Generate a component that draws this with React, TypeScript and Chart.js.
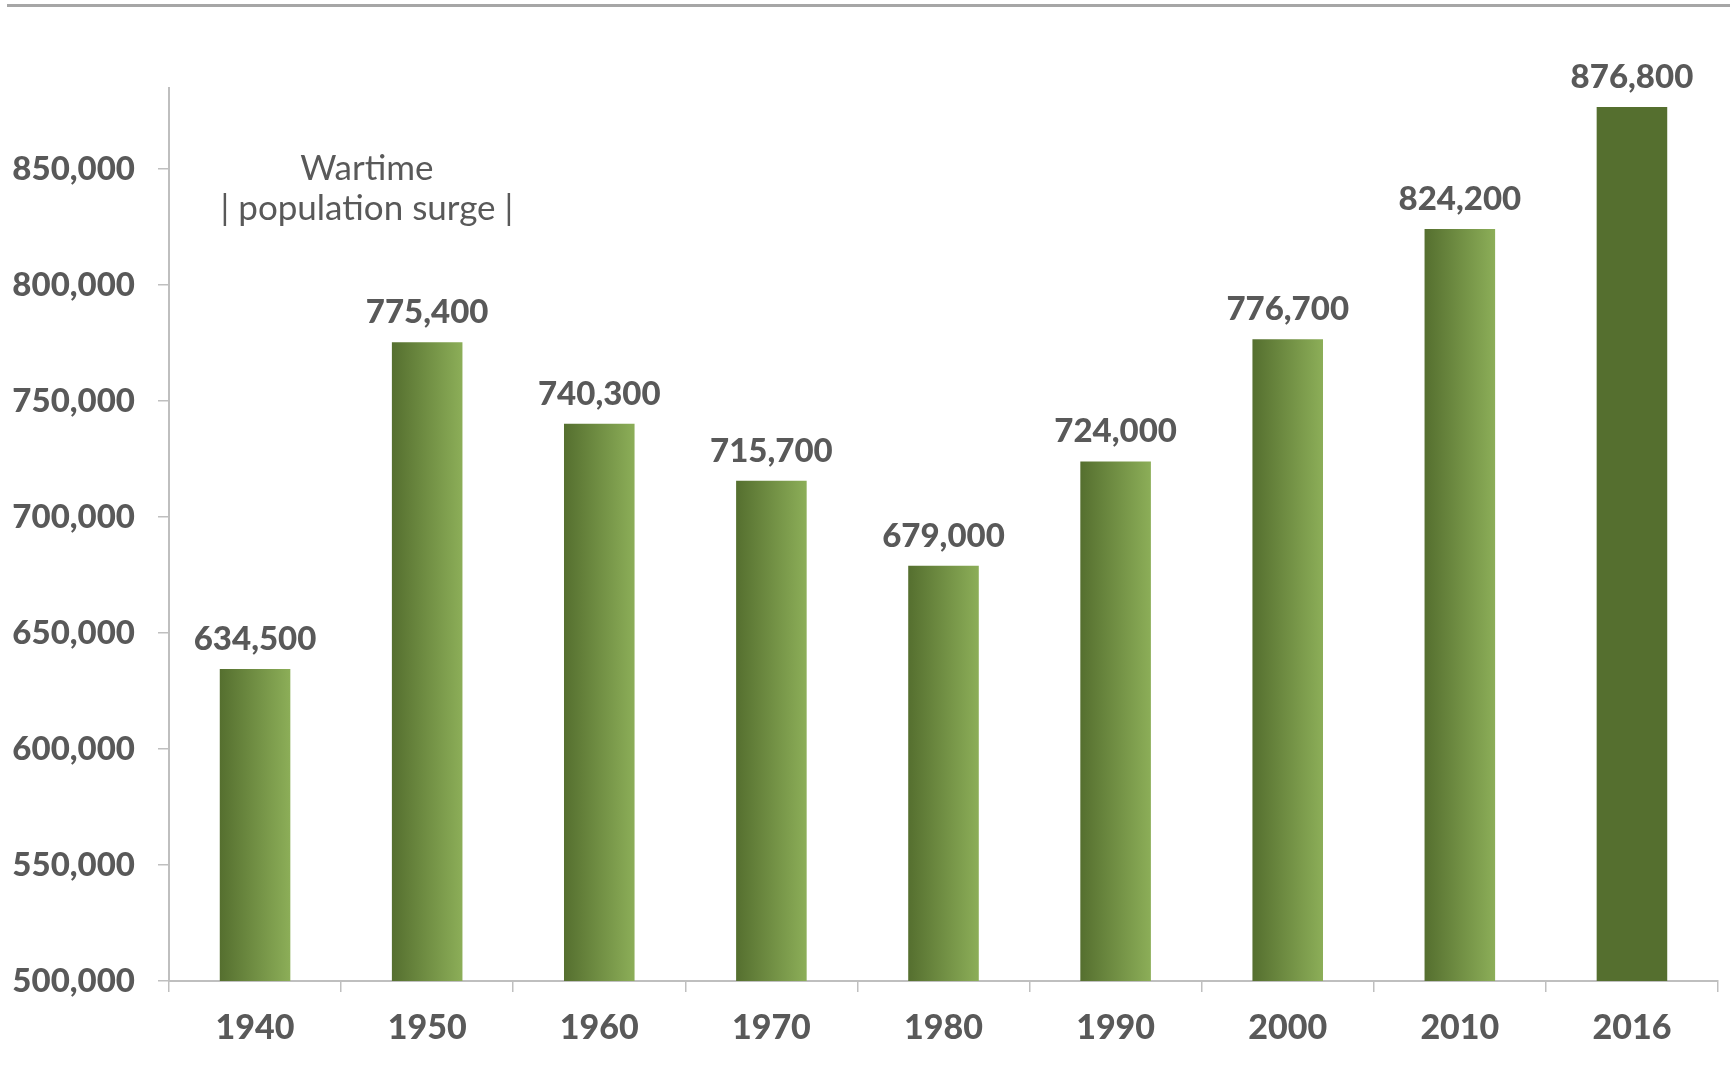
import React, { useEffect, useRef } from "react";
import { Chart, registerables } from "chart.js";

Chart.register(...registerables);

const years = ["1940", "1950", "1960", "1970", "1980", "1990", "2000", "2010", "2016"];
const population = [634500, 775400, 740300, 715700, 679000, 724000, 776700, 824200, 876800];
const yTicks = [500000, 550000, 600000, 650000, 700000, 750000, 800000, 850000];
const noteLines = ["Wartime", "| population surge |"];

const TEXT = "#595959";
const AXIS = "#bfbfbf";
const DARK = "#556f2f";
const LIGHT = "#8cae58";
const FONT = "Lato, 'Open Sans', sans-serif";
const HEAVY = "900";

const fmt = (v: number) => v.toLocaleString("en-US");

// Horizontal dark-to-light gradient on each bar; the latest bar stays solid.
const barFill = (c: any) => {
  const chart = c.chart;
  const i = c.dataIndex;
  if (i === undefined || i === population.length - 1) return DARK;
  const bar = chart.getDatasetMeta(0).data[i];
  if (!bar || !chart.chartArea || !Number.isFinite(bar.x) || !bar.width) return DARK;
  const half = bar.width / 2;
  const g = chart.ctx.createLinearGradient(bar.x - half, 0, bar.x + half, 0);
  g.addColorStop(0, DARK);
  g.addColorStop(1, LIGHT);
  return g;
};

// Value labels above bars, the note text and the rule across the top.
const decorations = {
  id: "decorations",
  beforeDatasetsDraw(chart: any) {
    const meta = chart.getDatasetMeta(0);
    meta.data.forEach((bar: any, i: number) => {
      bar.options.backgroundColor = barFill({ chart, dataIndex: i });
    });
  },
  afterDraw(chart: any) {
    const ctx = chart.ctx;
    const meta = chart.getDatasetMeta(0);
    ctx.save();
    ctx.fillStyle = TEXT;
    ctx.textAlign = "center";
    ctx.textBaseline = "alphabetic";
    ctx.font = `${HEAVY} 33px ${FONT}`;
    meta.data.forEach((bar: any, i: number) => {
      ctx.fillText(fmt(population[i]), bar.x, bar.y - 19);
    });

    const xs = chart.scales.x;
    const ys = chart.scales.y;
    const step = xs.getPixelForValue(1) - xs.getPixelForValue(0);
    const nx = xs.getPixelForValue(0) + step * 0.65;
    ctx.font = `35px ${FONT}`;
    ctx.textBaseline = "middle";
    ctx.fillText(noteLines[0], nx, ys.getPixelForValue(850000));
    ctx.fillText(noteLines[1], nx, ys.getPixelForValue(833000));

    ctx.strokeStyle = "#a6a6a6";
    ctx.lineWidth = 3;
    ctx.beginPath();
    ctx.moveTo(7, 5.5);
    ctx.lineTo(chart.width, 5.5);
    ctx.stroke();
    ctx.restore();
  },
};

export default function App() {
  const ref = useRef<HTMLCanvasElement>(null);

  useEffect(() => {
    document.body.style.margin = "0";
    const chart = new Chart(ref.current!, {
      type: "bar",
      data: {
        labels: years,
        datasets: [
          {
            data: population,
            backgroundColor: (c: any) => (c.dataIndex === population.length - 1 ? DARK : DARK),
            barPercentage: 0.82,
            categoryPercentage: 0.5,
          },
        ],
      },
      options: {
        animation: false,
        responsive: false,
        layout: { padding: { top: 88, right: 12, left: 0, bottom: 0 } },
        plugins: { legend: { display: false }, tooltip: { enabled: false } },
        scales: {
          x: {
            afterFit: (s: any) => {
              s.height = 107;
            },
            border: { color: AXIS, width: 2 },
            grid: {
              offset: true,
              drawOnChartArea: false,
              tickLength: 11,
              color: AXIS,
              lineWidth: 1.5,
            },
            ticks: {
              color: TEXT,
              padding: 16,
              font: { family: FONT, size: 34, weight: HEAVY },
            },
          },
          y: {
            min: 500000,
            max: 885000,
            afterFit: (s: any) => {
              s.width = 169;
            },
            afterBuildTicks: (s: any) => {
              s.ticks = yTicks.map((v) => ({ value: v }));
            },
            border: { color: AXIS, width: 2 },
            grid: {
              drawOnChartArea: false,
              tickLength: 11,
              color: AXIS,
              lineWidth: 1.5,
            },
            ticks: {
              autoSkip: false,
              color: TEXT,
              padding: 23,
              font: { family: FONT, size: 33, weight: HEAVY },
              callback: (v: any) => fmt(Number(v)),
            },
          },
        },
      },
      plugins: [decorations],
    });
    return () => chart.destroy();
  }, []);

  return (
    <div style={{ width: 1730, height: 1088 }}>
      <canvas ref={ref} width={1730} height={1088} style={{ width: 1730, height: 1088 }} />
    </div>
  );
}
